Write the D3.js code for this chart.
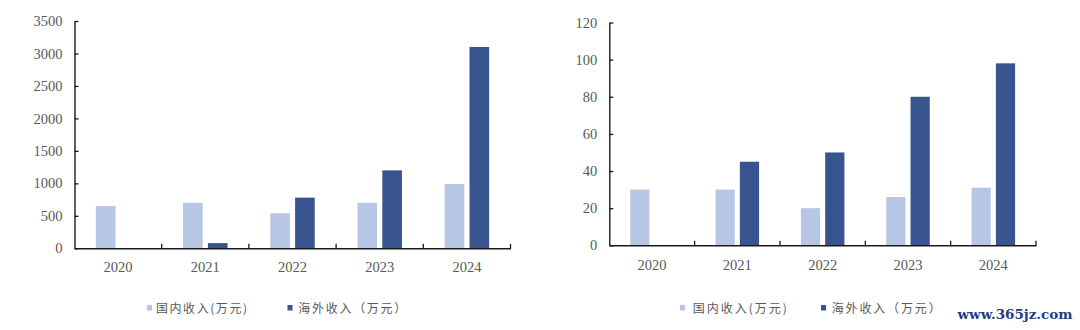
<!DOCTYPE html>
<html><head><meta charset="utf-8">
<script src="https://cdn.jsdelivr.net/npm/d3@7/dist/d3.min.js"></script>
<style>
html,body{margin:0;padding:0;background:#fff;}
svg{display:block;}
</style></head>
<body>
<svg id="c" width="1080" height="330"></svg>
<script>
const years = ["2020","2021","2022","2023","2024"];
const domesticA = [650, 700, 540, 700, 990];
const overseasA = [null, 80, 780, 1200, 3100];
const domesticB = [30, 30, 20, 26, 31];
const overseasB = [null, 45, 50, 80, 98];
const yTicksA = [0, 500, 1000, 1500, 2000, 2500, 3000, 3500];
const yTicksB = [0, 20, 40, 60, 80, 100, 120];
const seriesNames = ["国内收入(万元)", "海外收入（万元）"];
const colors = ["#B7C6E5", "#37548F"];
const watermark = "www.365jz.com";

const svg = d3.select("#c");

function drawChart(cfg) {
  const g = svg.append("g");
  const x0 = d3.scaleBand().domain(years).range(cfg.xr).paddingInner(0.49).paddingOuter(0.245);
  const x1 = d3.scaleBand().domain([0,1]).range([0, x0.bandwidth()]).paddingInner(0.21).paddingOuter(0);
  const y = d3.scaleLinear().domain([0, cfg.yTicks[cfg.yTicks.length-1]]).range(cfg.yr);
  const rows = years.map((yr,i)=>({yr, vals:[cfg.dom[i], cfg.ovs[i]]}));

  const grp = g.selectAll("g.yr").data(rows).enter().append("g")
    .attr("transform", d=>`translate(${x0(d.yr)},0)`);
  grp.selectAll("rect").data(d=>d.vals.map((v,k)=>({v,k})).filter(e=>e.v!=null))
    .enter().append("rect")
    .attr("x", e=>x1(e.k)).attr("width", x1.bandwidth())
    .attr("y", e=>y(e.v)).attr("height", e=>y(0)-y(e.v))
    .attr("fill", e=>colors[e.k]);

  const ya = g.append("g").attr("transform", `translate(${cfg.xr[0]},0)`)
    .call(d3.axisLeft(y).tickValues(cfg.yTicks).tickFormat(d3.format("d"))
      .tickSizeInner(-4).tickSizeOuter(0).tickPadding(12));
  const xa = g.append("g").attr("transform", `translate(0,${cfg.yr[0]})`)
    .call(d3.axisBottom(x0).tickSize(0).tickPadding(cfg.xpad));
  [ya, xa].forEach(a=>{
    a.select(".domain").attr("stroke", "#1a1a1a").attr("stroke-width", 1.4);
    a.selectAll(".tick line").attr("stroke", "#1a1a1a").attr("stroke-width", 1.3);
    a.selectAll("text").attr("font-family", "'Liberation Serif', serif")
      .attr("font-size", 14.5).attr("fill", "#595959");
  });
  const bounds = d3.range(1, years.length+1).map(i=>cfg.xr[0] + i*x0.step());
  g.selectAll("line.bt").data(bounds).enter().append("line")
    .attr("x1", d=>d).attr("x2", d=>d)
    .attr("y1", cfg.yr[0]-4.5).attr("y2", cfg.yr[0]+0.5)
    .attr("stroke", "#1a1a1a").attr("stroke-width", 1.3);

  cfg.legend.forEach((L,k)=>{
    g.append("rect").attr("x", L.sx).attr("y", 305).attr("width", 5).attr("height", 5.5)
      .attr("fill", colors[k]);
    g.append("text").attr("x", L.tx).attr("y", 312.5)
      .attr("font-family", "'Noto Sans CJK SC', sans-serif").attr("font-size", 12)
      .attr("fill", "#595959").attr("textLength", L.w).attr("lengthAdjust", "spacing")
      .text(seriesNames[k]);
  });
}

drawChart({xr:[74.5, 510.5], yr:[248.3, 21], yTicks:yTicksA, dom:domesticA, ovs:overseasA, xpad:13,
  legend:[{sx:147, tx:156, w:91}, {sx:287.5, tx:298.3, w:108}]});
drawChart({xr:[609.3, 1036], yr:[245.3, 22.5], yTicks:yTicksB, dom:domesticB, ovs:overseasB, xpad:14,
  legend:[{sx:680, tx:692.7, w:94}, {sx:821, tx:831.7, w:109}]});

svg.append("text").attr("x", 957.5).attr("y", 318.5)
  .attr("font-family", "'DejaVu Serif', serif").attr("font-weight", "bold").attr("font-size", 13)
  .attr("fill", "#1E3C86").attr("textLength", 115).attr("lengthAdjust", "spacingAndGlyphs")
  .text(watermark);
</script>
</body></html>
